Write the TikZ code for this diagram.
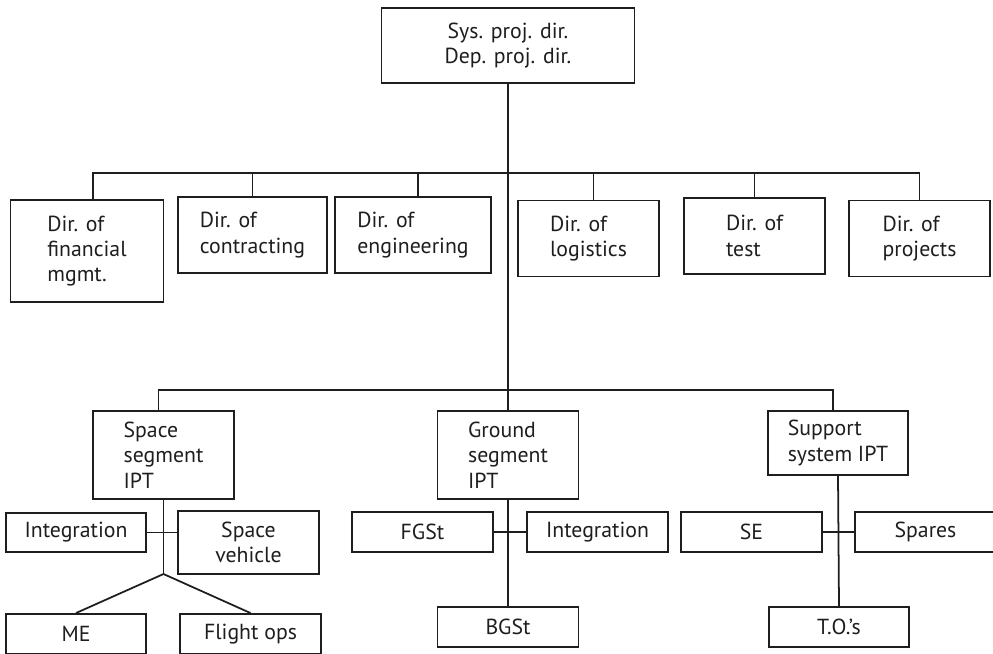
\documentclass[tikz,border=0pt]{standalone}
\usepackage{fontspec}
\setmainfont{PT Sans}
\usetikzlibrary{positioning, calc}
\definecolor{LineGray}{RGB}{30, 30, 30}

\begin{document}
\begin{tikzpicture}[x=0.02cm, y=-0.02cm,
    box/.style={draw=LineGray, line width=1.1pt, inner sep=2pt,
                font=\fontsize{12.4}{14.4}\selectfont, text=LineGray},
    dirbox/.style={box, align=left, minimum height=76*0.02cm},
    link/.style={draw=LineGray, line width=1pt}]
    \useasboundingbox (0,0) rectangle (993,653);
    \clip (0,0) rectangle (993,653);

    % Project directors
    \node[box, align=center, minimum width=253*0.02cm, minimum height=75*0.02cm] (top) at (508,45.5)
        {Sys. proj. dir.\\Dep. proj. dir.};

    % Director row
    \node[dirbox, minimum width=153*0.02cm, minimum height=102*0.02cm] (fin) at (87,251) {Dir. of\\financial\\mgmt.};
    \node[dirbox, minimum width=149*0.02cm] (con) at (252.5,235) {Dir. of\\contracting};
    \node[dirbox, minimum width=156*0.02cm] (eng) at (413,235) {Dir. of\\engineering};
    \node[dirbox, minimum width=141*0.02cm] (log) at (588.5,238.5) {Dir. of\\logistics};
    \node[dirbox, minimum width=141*0.02cm] (tst) at (754.5,236) {Dir. of\\test};
    \node[dirbox, minimum width=141*0.02cm] (prj) at (919.5,238.5) {Dir. of\\projects};

    \coordinate (bus1) at (508,173);
    \draw[link] ([xshift=6*0.02cm]fin.north) |- (bus1);
    \draw[link] ([xshift=5*0.02cm]eng.north) |- (bus1);
    \draw[link] ([xshift=5*0.02cm]log.north) |- (bus1);
    \foreach \d in {con, tst, prj} {
        \draw[link] (\d.north) |- (bus1);
    }

    % IPT row
    \node[box, align=left, minimum width=141*0.02cm, minimum height=88*0.02cm] (spc) at (163.5,455) {Space\\segment\\IPT};
    \node[box, align=left, minimum width=141*0.02cm, minimum height=88*0.02cm] (gnd) at (508,455) {Ground\\segment\\IPT};
    \node[box, align=left, minimum width=140*0.02cm, minimum height=64*0.02cm] (sup) at (838,443) {Support\\system IPT};

    \draw[link] (top.south) -- (gnd.north);
    \coordinate (bus2) at (508,390);
    \draw[link] ([xshift=-5*0.02cm]spc.north) |- (bus2);
    \draw[link] ([xshift=-5*0.02cm]sup.north) |- (bus2);

    % Space segment team
    \node[box, minimum width=140*0.02cm, minimum height=39*0.02cm] (intS) at (76,532.5) {Integration};
    \node[box, align=center, minimum width=141*0.02cm, minimum height=63*0.02cm] (veh) at (248.5,542.5) {Space\\vehicle};
    \node[box, minimum width=140*0.02cm, minimum height=40*0.02cm] (me) at (76,634) {ME};
    \node[box, minimum width=141*0.02cm, minimum height=40*0.02cm] (fops) at (250.5,634) {Flight ops};
    \coordinate (split) at (163.5,574);
    \draw[link] (spc.south) -- (split);
    \draw[link] (intS.east) -- (intS.east -| veh.west);
    \draw[link] (me.north) -- (split) -- (fops.north);

    % Ground segment team
    \node[box, minimum width=141*0.02cm, minimum height=40*0.02cm] (fgst) at (422.5,532) {FGSt};
    \node[box, minimum width=141*0.02cm, minimum height=40*0.02cm] (intG) at (597.5,532) {Integration};
    \node[box, minimum width=141*0.02cm, minimum height=40*0.02cm] (bgst) at (508,627) {BGSt};
    \draw[link] (gnd.south) -- (bgst.north);
    \draw[link] (fgst.east) -- (intG.west);

    % Support system team
    \node[box, minimum width=141*0.02cm, minimum height=40*0.02cm] (se) at (751.5,532) {SE};
    \node[box, minimum width=141*0.02cm, minimum height=40*0.02cm] (spr) at (925.5,532) {Spares};
    \node[box, minimum width=140*0.02cm, minimum height=40*0.02cm] (tos) at (839,627) {T.O.'s};
    \draw[link] (sup.south) -- (tos.north);
    \draw[link] (se.east) -- (spr.west);
\end{tikzpicture}
\end{document}
